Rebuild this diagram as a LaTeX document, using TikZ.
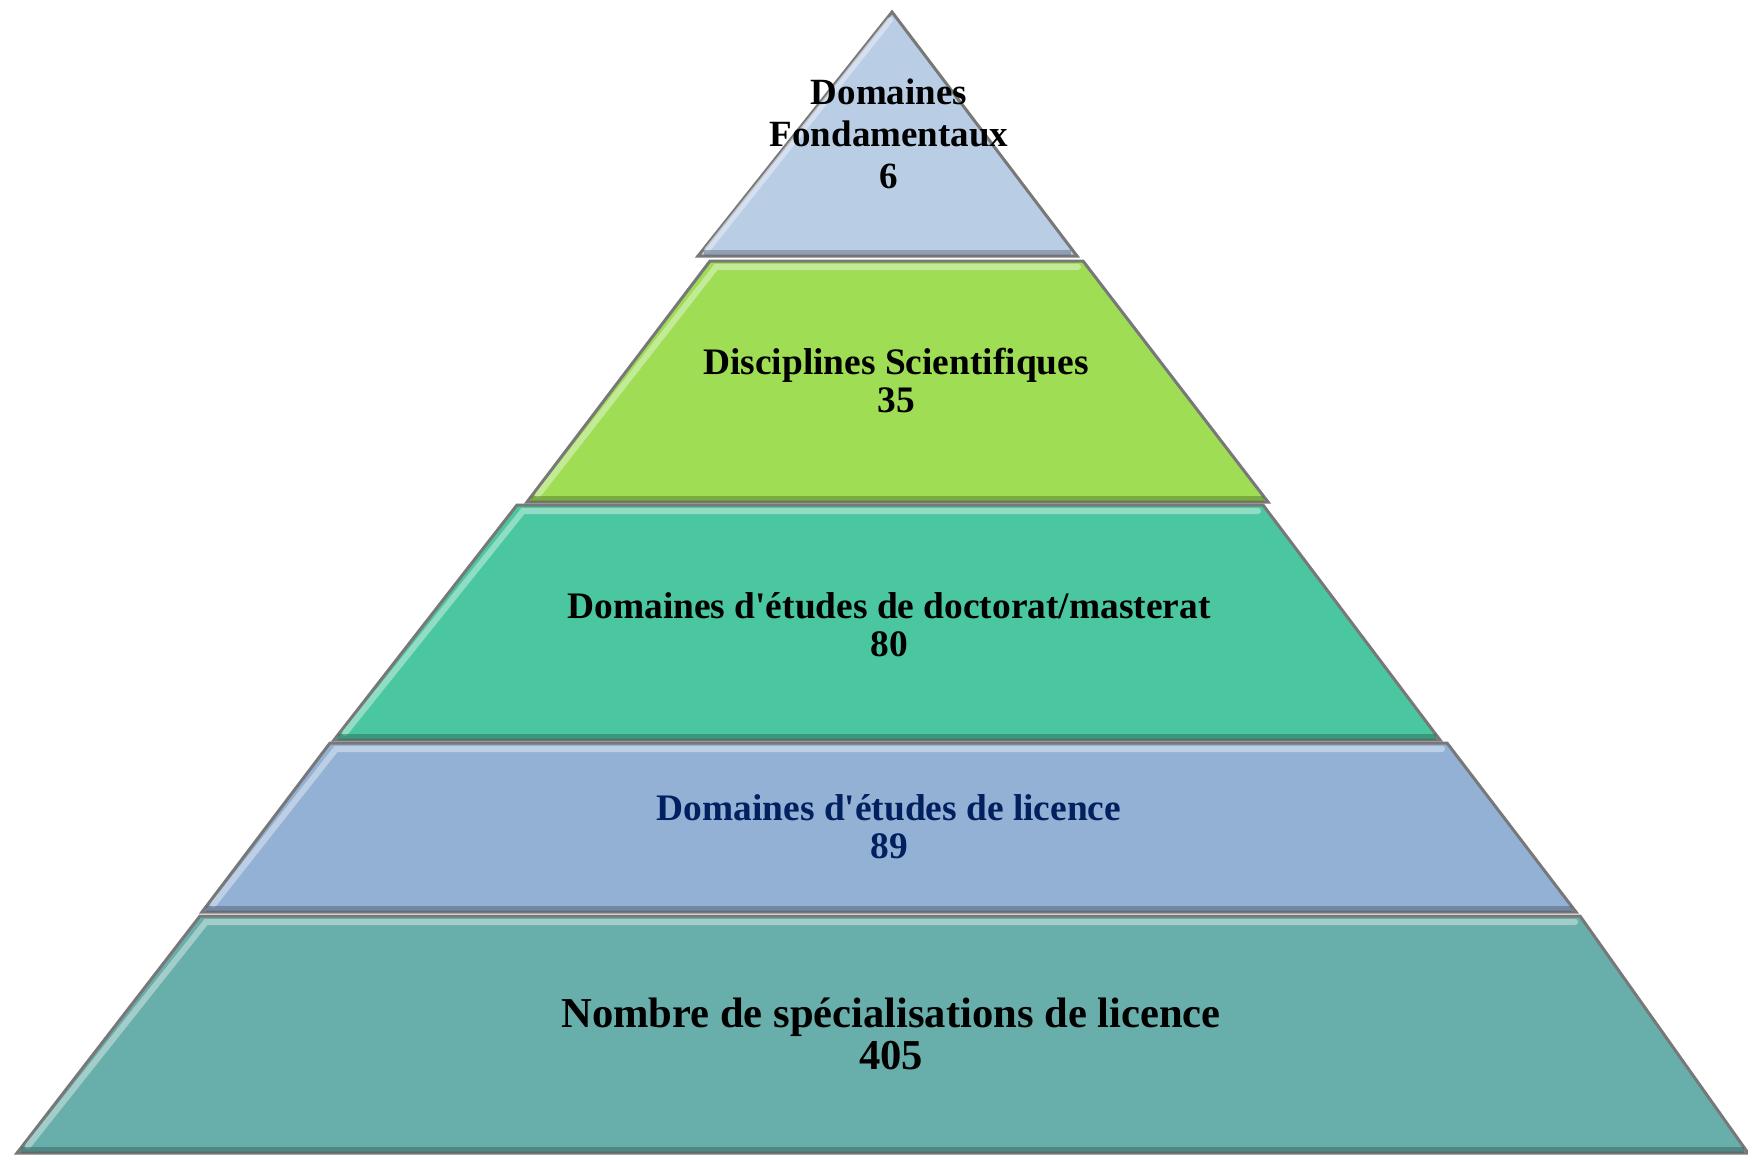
\documentclass[tikz,border=0pt]{standalone}
\usepackage{fontspec}
\setmainfont{Liberation Serif}[Ligatures=TeXOff]
\usepackage{tikz}
\usepackage{color}

\definecolor{toplvl}{RGB}{185,205,229}
\definecolor{greenlvl}{RGB}{158,221,84}
\definecolor{teallvl}{RGB}{74,198,160}
\definecolor{bluelvl}{RGB}{147,177,212}
\definecolor{baselvl}{RGB}{104,174,170}
\definecolor{navytxt}{RGB}{0,32,96}

\tikzset{
  lvltext/.style={align=center, inner sep=0pt, font=\bfseries\fontsize{18.7}{19}\selectfont},
  rim/.style={draw={rgb, 255:red, 120; green, 120; blue, 120}, line width=1.5, line join=miter},
  shine/.style={line width=3, line cap=round, opacity=0.6},
  shade/.style={line width=3, opacity=0.5}
}

\begin{document}
\begin{tikzpicture}[x=0.5pt,y=0.5pt,yscale=-1,xscale=1]
	\useasboundingbox (0,0) rectangle (1748,1155);
	
	%Shape: Triangle
	\draw [rim, fill=toplvl] (892,12) -- (1077,256) -- (698,256) -- cycle ;
	\draw [shine, color=toplvl!35!white] (707,250) -- (890,20) ;
	\draw [shade, color=toplvl!55!black] (704,253) -- (1071,253) ;
	
	%Shape: Trapezoid
	\draw [rim, fill=greenlvl] (710,261) -- (1083,261) -- (1268,502) -- (527,502) -- cycle ;
	\draw [shine, color=greenlvl!35!white] (538,495) -- (716,267) -- (1078,267) ;
	\draw [shade, color=greenlvl!55!black] (531,499) -- (1264,499) ;
	
	%Shape: Trapezoid
	\draw [rim, fill=teallvl] (517,505) -- (1263,505) -- (1440,740) -- (334,740) -- cycle ;
	\draw [shine, color=teallvl!35!white] (345,733) -- (523,511) -- (1258,511) ;
	\draw [shade, color=teallvl!55!black] (338,737) -- (1436,737) ;
	
	%Shape: Trapezoid
	\draw [rim, fill=bluelvl] (330,743) -- (1447,743) -- (1576,912) -- (202,912) -- cycle ;
	\draw [shine, color=bluelvl!35!white] (213,905) -- (336,749) -- (1442,749) ;
	\draw [shade, color=bluelvl!55!black] (206,909) -- (1572,909) ;
	
	%Shape: Trapezoid
	\draw [rim, fill=baselvl] (200,916) -- (1580,916) -- (1748,1153) -- (17,1153) -- cycle ;
	\draw [shine, color=baselvl!35!white] (28,1146) -- (206,922) -- (1575,922) ;
	\draw [shade, color=baselvl!55!black] (21,1150) -- (1744,1150) ;
	
	% labels
	\node [lvltext, font=\bfseries\fontsize{18.5}{21}\selectfont] (fond) at (889,134) {Domaines\\Fondamentaux\\6};
	\node [lvltext] (disc) at (896,381) {Disciplines Scientifiques\\35};
	\node [lvltext] (doct) at (889,625) {Domaines d'études de doctorat/masterat\\80};
	\node [lvltext, text=navytxt] (lic) at (889,827) {Domaines d'études de licence\\89};
	\node [lvltext, font=\bfseries\fontsize{21.3}{21}\selectfont] (spec) at (891,1034) {Nombre de spécialisations de licence\\405};
	
\end{tikzpicture}
\end{document}
